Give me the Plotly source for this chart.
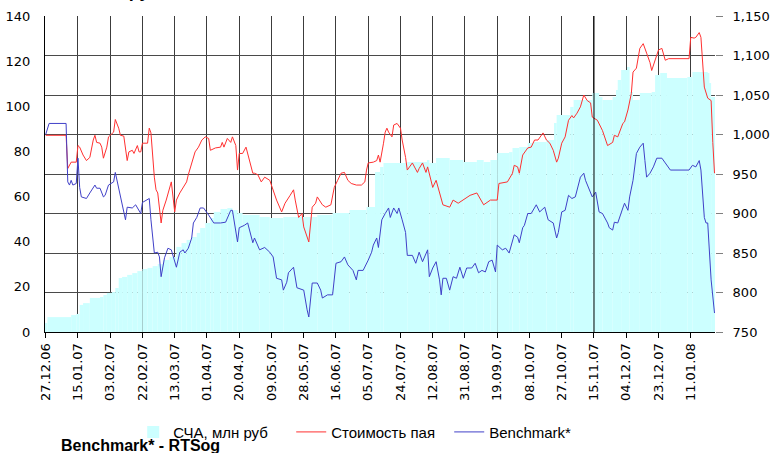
import plotly.graph_objects as go
import pandas as pd

# ---------------- data ----------------
nav_dates = [
    "2006-12-27","2006-12-28","2007-01-11","2007-01-14","2007-01-16","2007-01-18","2007-01-22","2007-01-28","2007-01-30","2007-02-01",
    "2007-02-04","2007-02-06","2007-02-08","2007-02-10","2007-02-13","2007-02-16","2007-02-19","2007-02-22","2007-02-25","2007-02-28",
    "2007-03-03","2007-03-06","2007-03-10","2007-03-14","2007-03-17","2007-03-20","2007-03-23","2007-03-26","2007-03-28","2007-03-31",
    "2007-04-03","2007-04-05","2007-04-09","2007-04-13","2007-04-16","2007-04-19","2007-04-22","2007-05-02","2007-05-08","2007-05-16",
    "2007-06-05","2007-06-14","2007-06-24","2007-07-04","2007-07-09","2007-07-12","2007-07-14","2007-07-28","2007-08-09","2007-08-10",
    "2007-08-14","2007-08-22","2007-08-30","2007-09-07","2007-09-11","2007-09-15","2007-09-19","2007-09-26","2007-09-28","2007-10-02",
    "2007-10-07","2007-10-10","2007-10-18","2007-10-23","2007-10-24","2007-11-01","2007-11-03","2007-11-14","2007-11-18","2007-11-20",
    "2007-11-26","2007-11-28","2007-11-29","2007-12-01","2007-12-05","2007-12-06","2007-12-08","2007-12-12","2007-12-19","2007-12-21",
    "2007-12-24","2007-12-28","2008-01-09","2008-01-12","2008-01-21","2008-01-22","2008-01-23","2008-01-25",
]
nav_values = [
    4.0, 6.6, 7.5, 8.0, 12.0, 12.8, 15.1, 15.5, 16.4, 17.3,
    17.7, 19.5, 23.9, 24.4, 25.3, 26.1, 27.0, 27.9, 28.4, 29.2,
    30.1, 31.9, 33.2, 37.7, 39.4, 40.8, 42.1, 43.9, 46.1, 48.3,
    50.5, 53.2, 54.5, 54.9, 54.0, 52.7, 51.8, 51.0, 50.5, 51.0,
    51.8, 52.7, 54.0, 55.4, 70.9, 73.1, 74.9, 75.3, 76.2, 74.9,
    77.1, 76.2, 75.3, 76.2, 75.3, 76.2, 79.3, 79.7, 81.5, 82.0,
    83.7, 84.2, 85.1, 92.6, 96.1, 99.7, 102.8, 105.9, 104.1, 102.8,
    104.1, 107.2, 111.6, 116.1, 117.4, 106.3, 102.8, 105.9, 106.3, 113.9,
    114.7, 112.5, 113.0, 115.2, 114.7, 110.3, 104.1, 104.1,
]

unit_dates = [
    "2006-12-27","2007-01-08","2007-01-09","2007-01-11","2007-01-14","2007-01-15","2007-01-16","2007-01-18","2007-01-20","2007-01-22",
    "2007-01-24","2007-01-25","2007-01-26","2007-01-28","2007-01-29","2007-01-30","2007-02-01","2007-02-02","2007-02-03","2007-02-05",
    "2007-02-06","2007-02-08","2007-02-09","2007-02-11","2007-02-13","2007-02-14","2007-02-16","2007-02-17","2007-02-19","2007-02-20",
    "2007-02-21","2007-02-22","2007-02-25","2007-02-26","2007-02-27","2007-02-28","2007-03-01","2007-03-02","2007-03-03","2007-03-05",
    "2007-03-06","2007-03-08","2007-03-11","2007-03-13","2007-03-14","2007-03-16","2007-03-18","2007-03-20","2007-03-21","2007-03-23",
    "2007-03-25","2007-03-27","2007-03-29","2007-03-31","2007-04-02","2007-04-03","2007-04-06","2007-04-09","2007-04-10","2007-04-11",
    "2007-04-13","2007-04-15","2007-04-16","2007-04-18","2007-04-19","2007-04-20","2007-04-22","2007-04-24","2007-04-25","2007-04-28",
    "2007-04-29","2007-05-01","2007-05-03","2007-05-05","2007-05-08","2007-05-10","2007-05-12","2007-05-15","2007-05-17","2007-05-20",
    "2007-05-22","2007-05-23","2007-05-25","2007-05-27","2007-05-28","2007-05-31","2007-06-01","2007-06-02","2007-06-04","2007-06-05",
    "2007-06-08","2007-06-10","2007-06-13","2007-06-15","2007-06-17","2007-06-19","2007-06-21","2007-06-23","2007-06-25","2007-06-28",
    "2007-07-01","2007-07-03","2007-07-04","2007-07-05","2007-07-08","2007-07-10","2007-07-11","2007-07-12","2007-07-14","2007-07-15",
    "2007-07-16","2007-07-17","2007-07-19","2007-07-20","2007-07-22","2007-07-24","2007-07-25","2007-07-27","2007-07-28","2007-07-31",
    "2007-08-03","2007-08-04","2007-08-06","2007-08-08","2007-08-09","2007-08-12","2007-08-14","2007-08-16","2007-08-18","2007-08-22",
    "2007-08-24","2007-08-27","2007-08-30","2007-09-03","2007-09-07","2007-09-11","2007-09-15","2007-09-19","2007-09-20","2007-09-25",
    "2007-09-28","2007-09-29","2007-10-01","2007-10-02","2007-10-04","2007-10-07","2007-10-09","2007-10-11","2007-10-13","2007-10-16",
    "2007-10-18","2007-10-20","2007-10-22","2007-10-24","2007-10-25","2007-10-27","2007-10-29","2007-10-31","2007-11-02","2007-11-03",
    "2007-11-05","2007-11-07","2007-11-09","2007-11-11","2007-11-13","2007-11-14","2007-11-17","2007-11-19","2007-11-20","2007-11-23",
    "2007-11-26","2007-11-27","2007-11-29","2007-12-02","2007-12-03","2007-12-05","2007-12-07","2007-12-08","2007-12-10","2007-12-12",
    "2007-12-14","2007-12-16","2007-12-18","2007-12-19","2007-12-21","2007-12-23","2007-12-25","2007-12-27","2007-12-29","2008-01-10",
    "2008-01-11","2008-01-13","2008-01-14","2008-01-16","2008-01-17","2008-01-18","2008-01-19","2008-01-21","2008-01-23","2008-01-24","2008-01-25",
]
unit_values = [
    999, 999, 957, 965, 965, 986, 984, 974, 967, 971,
    993, 999, 990, 989, 984, 970, 984, 997, 999, 1003,
    1019, 1008, 999, 998, 967, 978, 980, 976, 986, 978,
    978, 989, 989, 1008, 1002, 967, 946, 930, 926, 888,
    904, 917, 940, 902, 917, 926, 933, 940, 949, 964,
    978, 984, 993, 997, 995, 980, 983, 984, 990, 984,
    995, 990, 997, 986, 955, 976, 976, 984, 976, 951,
    951, 949, 940, 946, 942, 930, 917, 902, 913, 923,
    930, 917, 895, 900, 883, 864, 888, 908, 913, 921,
    911, 908, 911, 933, 942, 951, 952, 942, 938, 936,
    936, 940, 955, 964, 965, 967, 974, 965, 989, 1003,
    1008, 1003, 997, 1012, 1014, 1008, 993, 971, 955, 964,
    952, 957, 964, 952, 959, 933, 942, 926, 911, 908,
    917, 913, 917, 923, 926, 911, 917, 917, 938, 940,
    951, 961, 959, 951, 974, 983, 984, 993, 993, 1002,
    993, 989, 980, 965, 970, 989, 997, 1018, 1024, 1021,
    1027, 1035, 1050, 1043, 1040, 1022, 1018, 1009, 1005, 986,
    990, 999, 997, 1014, 1016, 1031, 1052, 1079, 1084, 1109,
    1115, 1103, 1091, 1081, 1094, 1107, 1109, 1094, 1096, 1096,
    1123, 1122, 1123, 1129, 1123, 1094, 1060, 1046, 1043, 990, 951,
]

bench_dates = [
    "2006-12-27","2006-12-29","2007-01-08","2007-01-09","2007-01-10","2007-01-11","2007-01-12","2007-01-14","2007-01-15","2007-01-16",
    "2007-01-17","2007-01-20","2007-01-22","2007-01-25","2007-01-26","2007-01-28","2007-01-30","2007-01-31","2007-02-02","2007-02-05",
    "2007-02-06","2007-02-07","2007-02-09","2007-02-10","2007-02-12","2007-02-13","2007-02-16","2007-02-18","2007-02-19","2007-02-21",
    "2007-02-22","2007-02-25","2007-02-26","2007-02-27","2007-03-01","2007-03-03","2007-03-04","2007-03-05","2007-03-07","2007-03-09",
    "2007-03-11","2007-03-14","2007-03-16","2007-03-18","2007-03-19","2007-03-21","2007-03-23","2007-03-24","2007-03-26","2007-03-28",
    "2007-03-30","2007-04-02","2007-04-05","2007-04-09","2007-04-12","2007-04-15","2007-04-16","2007-04-19","2007-04-20","2007-04-23",
    "2007-04-25","2007-04-28","2007-04-29","2007-05-02","2007-05-05","2007-05-08","2007-05-10","2007-05-12","2007-05-15","2007-05-16",
    "2007-05-18","2007-05-19","2007-05-22","2007-05-24","2007-05-28","2007-05-30","2007-05-31","2007-06-02","2007-06-05","2007-06-07",
    "2007-06-08","2007-06-11","2007-06-14","2007-06-16","2007-06-19","2007-06-21","2007-06-23","2007-06-26","2007-06-28","2007-06-29",
    "2007-07-02","2007-07-05","2007-07-07","2007-07-08","2007-07-10","2007-07-11","2007-07-13","2007-07-15","2007-07-17","2007-07-18",
    "2007-07-20","2007-07-22","2007-07-23","2007-07-25","2007-07-27","2007-07-28","2007-07-31","2007-08-02","2007-08-04","2007-08-06",
    "2007-08-09","2007-08-10","2007-08-12","2007-08-14","2007-08-16","2007-08-17","2007-08-18","2007-08-20","2007-08-22","2007-08-24",
    "2007-08-26","2007-08-28","2007-08-30","2007-09-01","2007-09-04","2007-09-06","2007-09-08","2007-09-10","2007-09-12","2007-09-14",
    "2007-09-16","2007-09-18","2007-09-19","2007-09-22","2007-09-24","2007-09-26","2007-09-28","2007-09-29","2007-10-01","2007-10-02",
    "2007-10-04","2007-10-05","2007-10-07","2007-10-09","2007-10-12","2007-10-14","2007-10-17","2007-10-19","2007-10-22","2007-10-24",
    "2007-10-25","2007-10-27","2007-10-29","2007-10-31","2007-11-02","2007-11-04","2007-11-07","2007-11-09","2007-11-10","2007-11-12",
    "2007-11-14","2007-11-16","2007-11-17","2007-11-18","2007-11-20","2007-11-23","2007-11-24","2007-11-26","2007-11-27","2007-11-29",
    "2007-12-02","2007-12-03","2007-12-05","2007-12-06","2007-12-08","2007-12-10","2007-12-12","2007-12-14","2007-12-15","2007-12-16",
    "2007-12-18","2007-12-20","2007-12-22","2007-12-25","2007-12-27","2007-12-30","2008-01-10","2008-01-12","2008-01-14","2008-01-16",
    "2008-01-17","2008-01-19","2008-01-20","2008-01-21","2008-01-23","2008-01-25",
]
bench_values = [
    1000, 1014, 1014, 940, 936, 942, 936, 938, 970, 933,
    921, 919, 926, 936, 932, 932, 921, 923, 936, 940,
    952, 942, 923, 913, 892, 908, 907, 911, 907, 900,
    914, 917, 919, 892, 850, 851, 845, 820, 844, 856,
    854, 832, 851, 854, 850, 856, 869, 888, 895, 907,
    907, 898, 888, 888, 889, 904, 904, 864, 882, 885,
    888, 863, 869, 854, 857, 851, 845, 818, 816, 803,
    813, 825, 832, 806, 803, 778, 769, 812, 812, 803,
    793, 797, 797, 837, 839, 845, 835, 828, 816, 828,
    828, 841, 851, 860, 869, 857, 892, 900, 907, 895,
    907, 900, 907, 892, 876, 847, 847, 837, 851, 839,
    854, 820, 831, 839, 816, 797, 818, 818, 803, 820,
    818, 832, 818, 831, 831, 837, 825, 828, 826, 839,
    841, 826, 860, 854, 856, 850, 866, 873, 870, 863,
    882, 885, 900, 900, 911, 902, 908, 892, 888, 869,
    876, 902, 904, 923, 919, 921, 946, 951, 942, 932,
    921, 927, 913, 902, 900, 888, 882, 879, 889, 888,
    907, 913, 904, 921, 942, 976, 984, 989, 967, 946,
    951, 959, 970, 970, 964, 955, 955, 961, 959, 967,
    955, 895, 888, 888, 816, 774,
]

assert len(nav_dates) == len(nav_values)
assert len(unit_dates) == len(unit_values)
assert len(bench_dates) == len(bench_values)

tick_start = "2006-12-27"
tick_step_days = 19
marker_date = "2007-11-15"
x_range = ["2006-12-26 14:00", "2008-01-25 07:00"]

TICK_FONT = "DejaVu Sans"
TEXT_FONT = "Liberation Sans, Arial, sans-serif"

# each NAV column lasts until the next reading (last one until the axis end)
nav_ts = pd.to_datetime(nav_dates)
nav_next = list(nav_ts[1:]) + [pd.Timestamp(x_range[1])]
nav_width_ms = [(b - a).total_seconds() * 1000 for a, b in zip(nav_ts, nav_next)]

fig = go.Figure()
fig.add_trace(go.Bar(
    x=nav_dates, y=nav_values, name="СЧА, млн руб", yaxis="y",
    width=nav_width_ms, offset=0,
    marker=dict(color="#CCFFFF", line=dict(width=0)),
))
fig.add_trace(go.Scatter(
    x=unit_dates, y=unit_values, name="Стоимость пая", yaxis="y2",
    mode="lines", line=dict(color="#FF3030", width=1),
))
fig.add_trace(go.Scatter(
    x=bench_dates, y=bench_values, name="Benchmark*", yaxis="y2",
    mode="lines", line=dict(color="#4040C8", width=1),
))

fig.add_shape(type="line", xref="x", yref="paper", x0=marker_date, x1=marker_date,
              y0=0, y1=1, line=dict(color="#000000", width=1), layer="above")

fig.update_layout(
    width=770, height=453,
    margin=dict(l=45, r=55, t=16, b=121, pad=0),
    paper_bgcolor="white", plot_bgcolor="white",
    showlegend=True, barmode="overlay",
    legend=dict(orientation="h", xref="container", yref="container",
                x=0.173, xanchor="left", y=0.046, yanchor="middle",
                font=dict(family=TEXT_FONT, size=15, color="#000"),
                bgcolor="rgba(0,0,0,0)", itemwidth=30, entrywidth=113,
                traceorder="normal"),
    xaxis=dict(
        type="date", range=x_range, tickmode="linear", tick0=tick_start,
        dtick=tick_step_days * 86400000, tickformat="%d.%m.%y", tickangle=-90,
        tickfont=dict(family=TICK_FONT, size=13, color="#000"),
        showgrid=True, gridcolor="#3c3c3c", gridwidth=1,
        showline=True, linecolor="#000", linewidth=1,
        ticks="outside", ticklen=5, tickcolor="#000", zeroline=False,
        automargin=False,
    ),
    yaxis=dict(
        range=[0, 140], dtick=20, showgrid=False, zeroline=False,
        showline=True, linecolor="#000", linewidth=1,
        ticks="", ticklabelstandoff=11, automargin=False,
        tickfont=dict(family=TICK_FONT, size=13, color="#000"),
    ),
    yaxis2=dict(
        range=[750, 1150], dtick=50, overlaying="y", side="right",
        tickformat=",d", showgrid=True, gridcolor="#4a4a4a", gridwidth=1,
        zeroline=False, showline=False, automargin=False,
        ticks="outside", ticklen=7, tickcolor="#808080", ticklabelstandoff=7,
        tickfont=dict(family=TICK_FONT, size=13, color="#000"),
    ),
    annotations=[
        dict(text="<b>Benchmark* - RTSog</b>", xref="paper", yref="paper",
             x=0.021, y=-0.36, xanchor="left", yanchor="middle", showarrow=False,
             font=dict(family=TEXT_FONT, size=16, color="#000")),
        dict(text="<b>СЧА, млн руб</b>", xref="paper", yref="paper",
             x=-0.01, y=1.041, xanchor="left", yanchor="bottom", showarrow=False,
             font=dict(family=TEXT_FONT, size=18, color="#000")),
    ],
)

fig.write_html(
    "out.html",
    config={"displayModeBar": False},
    post_script="document.body.style.margin='0';document.body.style.overflow='hidden';",
)
